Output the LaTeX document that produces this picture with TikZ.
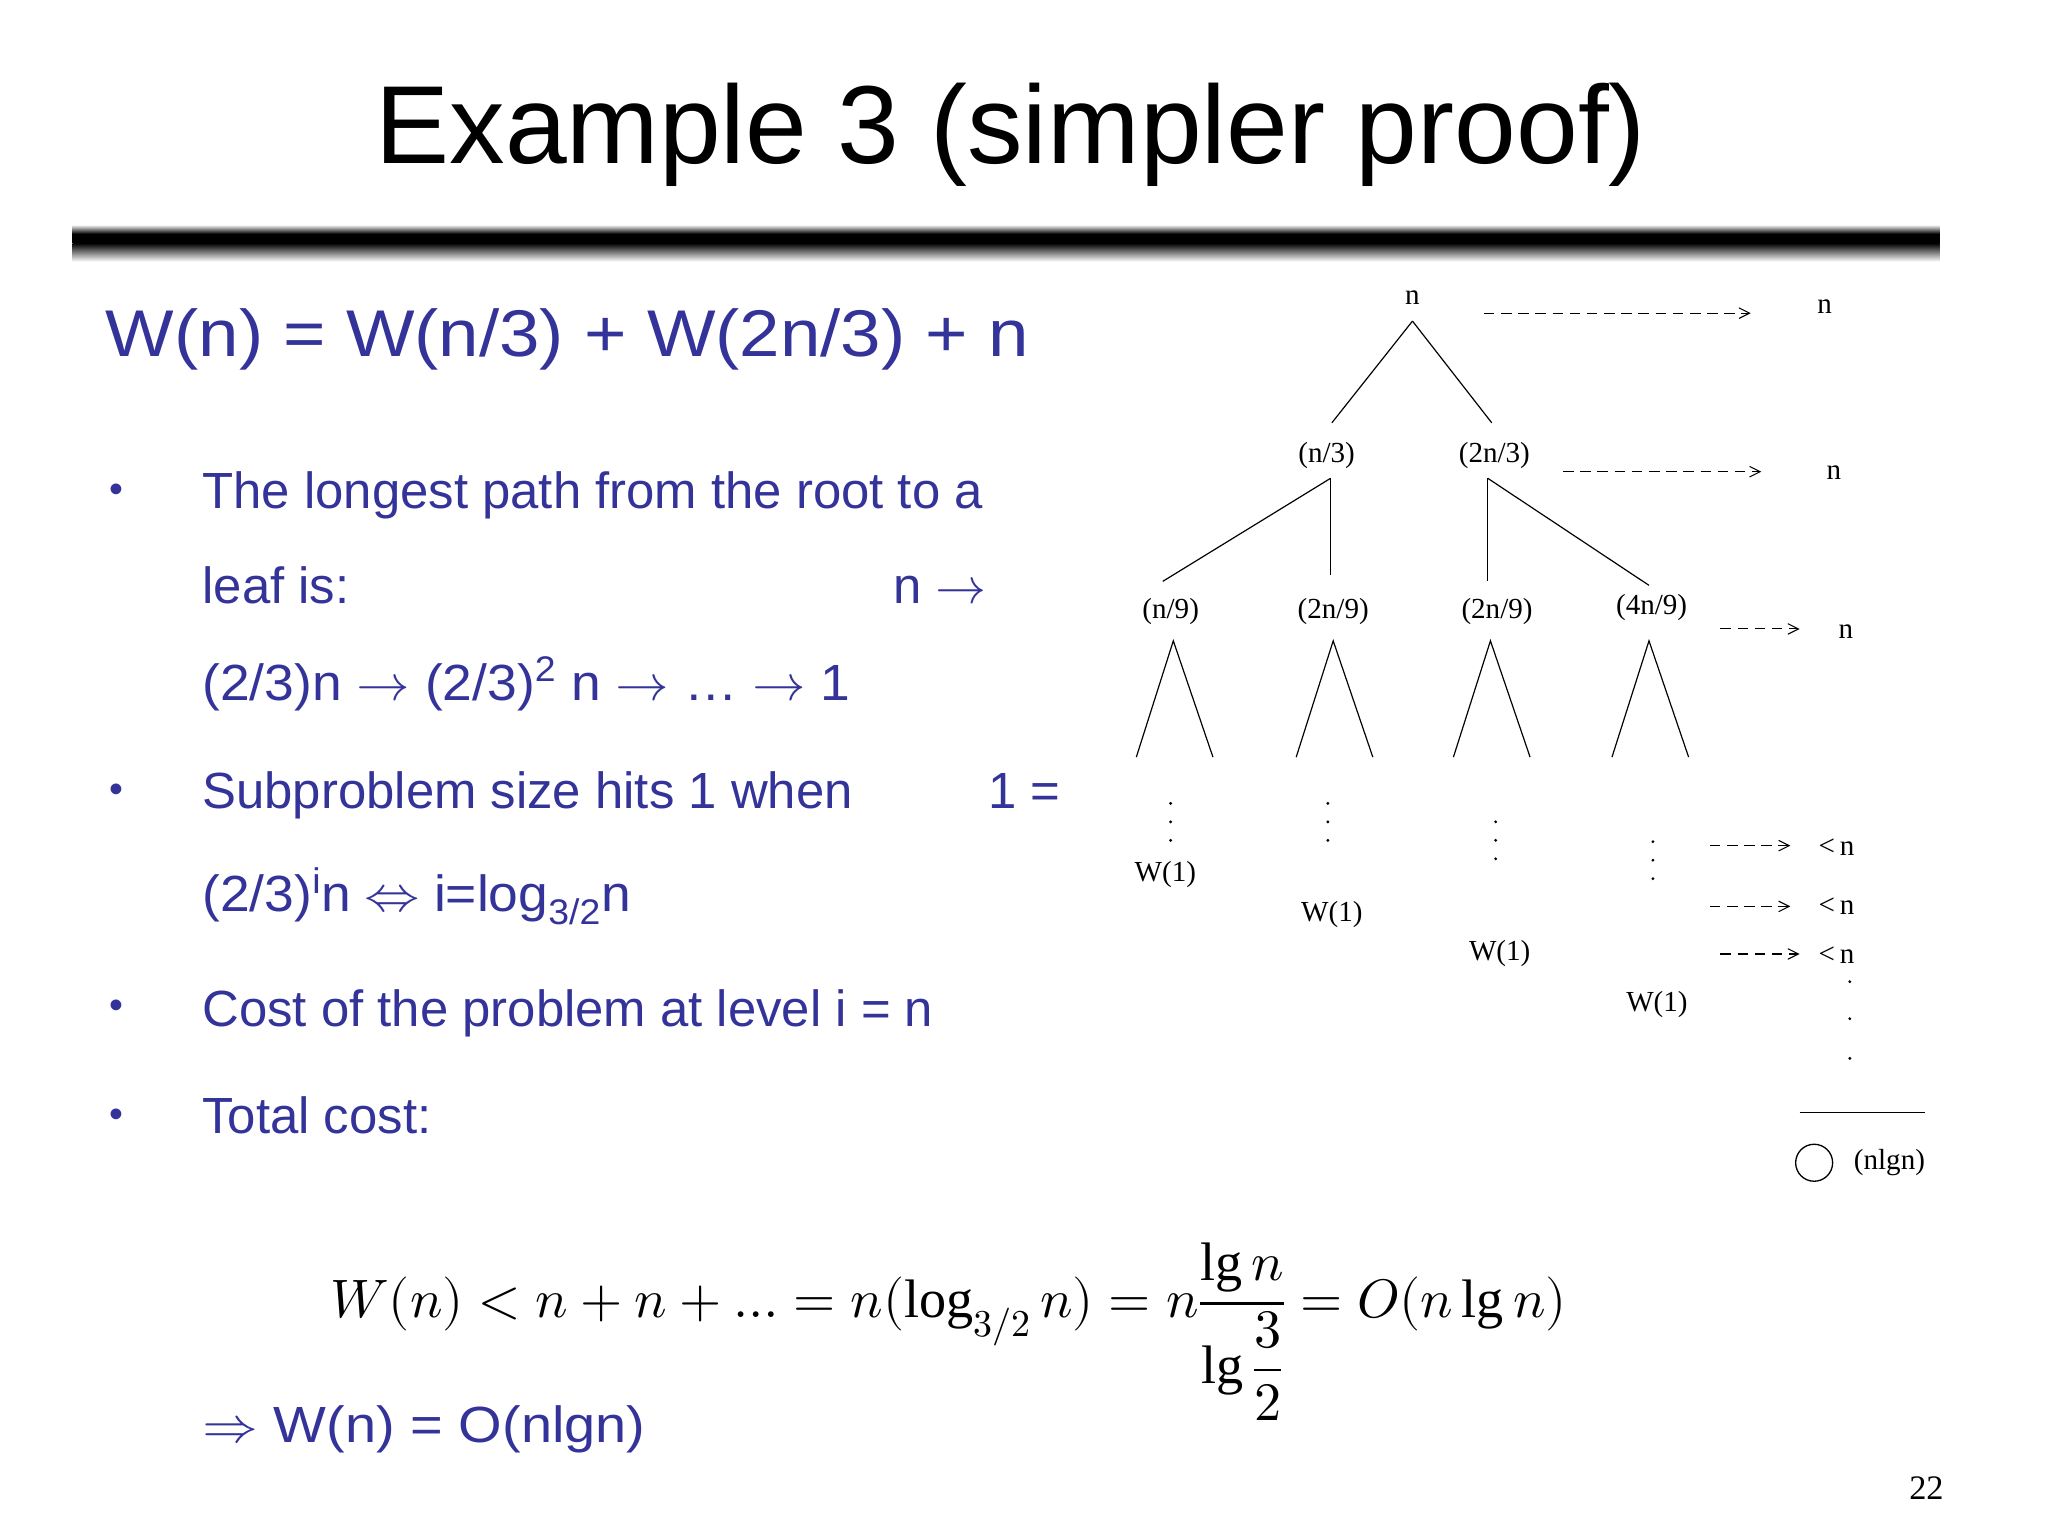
\documentclass[tikz,border=0pt]{standalone}
\usepackage{unicode-math}
\setmainfont{Liberation Sans}
\setmathfont{Latin Modern Math}
\newfontfamily\tms{Liberation Serif}
\newcommand\mylg{\mathop{\text{\tms lg}}\nolimits}
\newcommand\mylog{\mathop{\text{\tms log}}\nolimits}
\usetikzlibrary{arrows.meta}
\definecolor{slideblue}{RGB}{51,51,153}
\tikzset{
 txt/.style={anchor=base west,inner sep=0pt,text=slideblue,font=\fontsize{38.5}{40}\selectfont},
 bul/.style={anchor=base,inner sep=0pt,text=slideblue,font=\fontsize{30}{32}\selectfont},
 tl/.style={inner sep=0pt,font=\tms\fontsize{22}{24}\selectfont},
 edge/.style={line width=0.9pt},
 darr/.style={line width=0.8pt,dash pattern=on 8pt off 5pt,-{Straight Barb[length=8pt,width=8pt]}},
}
\begin{document}
\begin{tikzpicture}[x=1pt,y=-1pt]
\useasboundingbox (0,0) rectangle (1550,1162.5);
% title
\node[inner sep=0pt,font=\fontsize{84}{90}\selectfont] (title) at (765,102) {Example 3 (simpler proof)};
\shade[top color=white,bottom color=black,middle color=black] (55,170) rectangle (1468,184);
\shade[top color=black,bottom color=white] (55,184) rectangle (1468,198);
% recurrence
\node[txt,font=\fontsize{50}{52}\selectfont] (rec) at (80,270) {\scalebox{1.1}[1]{W(n) = W(n/3) + W(2n/3) + n}};
% bullets
\node[bul] (b1) at (88,380) {•};
\node[txt] (l1) at (153,385) {The longest path from the root to a};
\node[txt] (l2) at (153,457) {leaf is:};
\node[txt] (l2b) at (676,457) {n $\rightarrow$};
\node[txt] (l3) at (153,530) {\scalebox{1.05}[1]{(2/3)n $\rightarrow$ (2/3)\textsuperscript{2} n $\rightarrow$ … $\rightarrow$ 1}};
\node[bul] (b2) at (88,607) {•};
\node[txt] (l4) at (153,612) {Subproblem size hits 1 when};
\node[txt] (l4b) at (748,612) {1 =};
\node[txt] (l5) at (153,690) {\scalebox{1.05}[1]{(2/3)\textsuperscript{i}n $\Leftrightarrow$ i=log\textsubscript{3/2}n}};
\node[bul] (b3) at (88,771) {•};
\node[txt] (l6) at (153,777) {Cost of the problem at level i = n};
\node[bul] (b4) at (88,853) {•};
\node[txt] (l7) at (153,858) {Total cost:};
% formula
\node[inner sep=0pt,font=\fontsize{41}{46}\selectfont] (f) at (718,1008)
 {$W(n)<n+n+\ldots=n(\mylog_{3/2}n)=n\dfrac{\mylg n}{\mylg\dfrac{3}{2}}=O(n\mylg n)$};
\node[txt] (conc) at (153,1092) {\scalebox{1.1}[1]{$\Rightarrow$ W(n) = O(nlgn)}};
\node[inner sep=0pt,font=\tms\fontsize{26}{28}\selectfont] (pg) at (1458,1126) {22};
% tree
\node[tl] (r) at (1069,225) {n};
\node[tl] (a) at (1004,345) {(n/3)};
\node[tl] (b) at (1131,345) {(2n/3)};
\node[tl] (c1) at (886,463) {(n/9)};
\node[tl] (c2) at (1009,463) {(2n/9)};
\node[tl] (c3) at (1133,463) {(2n/9)};
\node[tl] (c4) at (1250,460) {(4n/9)};
\coordinate (ra) at (1069,243);
\draw[edge] (ra) -- (1008,320);
\draw[edge] (ra) -- (1129,320);
\draw[edge] (1007,362) -- (880,440);
\draw[edge] (1007,362) -- (1007,435);
\draw[edge] (1126,362) -- (1126,440);
\draw[edge] (1126,362) -- (1248,443);
\foreach \x in {888,1009,1128,1248}{
 \draw[edge] (\x-28,573) -- (\x,485) -- (\x+30,573);
}
\foreach \x/\y in {886/608,1005/608,1132/622,1251/637}{
 \fill (\x,\y) circle (1.2pt) (\x,\y+14) circle (1.2pt) (\x,\y+28) circle (1.2pt);
}
\node[tl] (w1) at (882,662) {W(1)};
\node[tl] (w2) at (1008,692) {W(1)};
\node[tl] (w3) at (1135,722) {W(1)};
\node[tl] (w4) at (1254,760) {W(1)};
% right column
\node[tl] (s1) at (1381,232) {n};
\node[tl] (s2) at (1388,358) {n};
\node[tl] (s3) at (1397,478) {n};
\node[tl] (s4) at (1390,641) {<\,n};
\node[tl] (s5) at (1390,686) {<\,n};
\node[tl] (s6) at (1390,723) {<\,n};
\coordinate (d1) at (1123,237); \coordinate (d2) at (1183,357); \coordinate (d3) at (1302,476);
\coordinate (d4) at (1294,640); \coordinate (d5) at (1294,686); \coordinate (d6) at (1302,722);
\draw[darr] (d1) -- (1325,237);
\draw[darr] (d2) -- (1333,357);
\draw[darr] (d3) -- (1362,476);
\draw[darr] (d4) -- (1355,640);
\draw[darr] (d5) -- (1355,686);
\draw[darr] (d6) -- (1362,722);
\fill (1400,743) circle (1.2pt) (1400,771) circle (1.2pt) (1400,801) circle (1.2pt);
\draw[line width=0.9pt] (1362,842) -- (1457,842);
\draw[line width=1pt] (1373,880) circle (14);
\node[tl] (tot) at (1430,880) {(nlgn)};
\end{tikzpicture}
\end{document}
